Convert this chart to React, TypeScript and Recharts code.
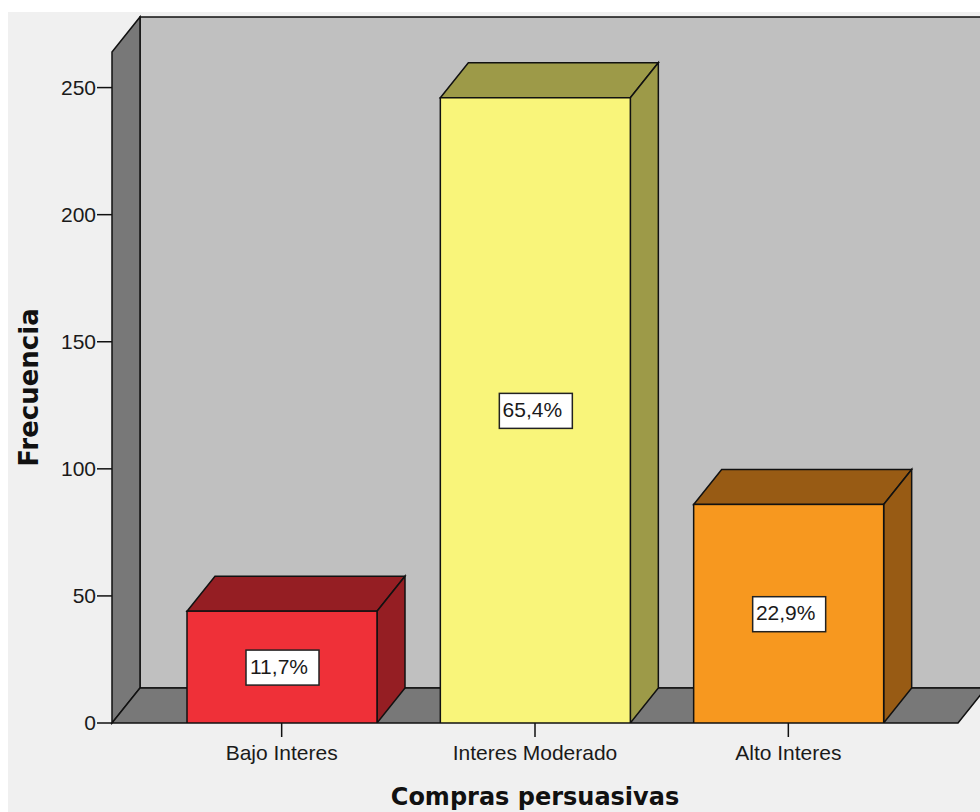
import React from 'react';
import { BarChart, Bar, XAxis, YAxis, LabelList, Label, usePlotArea } from 'recharts';

const categories = ['Bajo Interes', 'Interes Moderado', 'Alto Interes'];
const counts = [44, 246, 86];
const percents = ['11,7%', '65,4%', '22,9%'];
const yTicks = [0, 50, 100, 150, 200, 250];

const frontColors = ['#ef3038', '#f9f57a', '#f7981f'];
const darkColors = ['#951e23', '#9d9a48', '#985b14'];

const data = categories.map((name, i) => ({ name, count: counts[i], pct: percents[i] }));

// 3D depth of the box
const DX = 28;
const DY = 35;
const FONT = '"Liberation Sans", Arial, sans-serif';

function Walls() {
  const area = usePlotArea();
  if (!area) return null;
  const { x, y, width: w, height: h } = area;
  const b = y + h;
  return (
    <g>
      <rect x={x + DX} y={y - DY} width={w} height={h} fill="#c0c0c0" stroke="#111" strokeWidth={1.5} />
      <polygon
        points={`${x},${y} ${x + DX},${y - DY} ${x + DX},${b - DY} ${x},${b}`}
        fill="#787878"
        stroke="#111"
        strokeWidth={1.5}
      />
      <polygon
        points={`${x},${b} ${x + DX},${b - DY} ${x + w + DX},${b - DY} ${x + w},${b}`}
        fill="#787878"
        stroke="#111"
        strokeWidth={1.5}
      />
    </g>
  );
}

const Box3D = (props: any) => {
  const { x, y, width: w, height: h, index } = props;
  const front = frontColors[index];
  const dark = darkColors[index];
  return (
    <g>
      <polygon
        points={`${x},${y} ${x + DX},${y - DY} ${x + w + DX},${y - DY} ${x + w},${y}`}
        fill={dark}
        stroke="#111"
        strokeWidth={1.5}
      />
      <polygon
        points={`${x + w},${y} ${x + w + DX},${y - DY} ${x + w + DX},${y + h - DY} ${x + w},${y + h}`}
        fill={dark}
        stroke="#111"
        strokeWidth={1.5}
      />
      <rect x={x} y={y} width={w} height={h} fill={front} stroke="#111" strokeWidth={1.5} />
    </g>
  );
};

const PctLabel = (props: any) => {
  const { x, y, width: w, height: h, value } = props;
  const cx = x + w / 2;
  const cy = y + h / 2;
  return (
    <g>
      <rect x={cx - 36} y={cy - 17} width={73} height={35} fill="#fff" stroke="#222" strokeWidth={1.5} />
      <text
        x={cx - 3}
        y={cy + 1}
        textAnchor="middle"
        dominantBaseline="middle"
        fontFamily={FONT}
        fontSize={21}
        fill="#1a1a1a"
      >
        {value}
      </text>
    </g>
  );
};

export default function App() {
  return (
    <div style={{ position: 'absolute', left: 0, top: 0, width: 980, height: 812, background: '#fff', overflow: 'hidden' }}>
      <div style={{ position: 'absolute', left: 8, top: 12, right: 0, bottom: 0, background: '#f0f0f0' }} />
      <div style={{ position: 'absolute', left: 0, top: 0 }}>
        <BarChart width={980} height={812} data={data} margin={{ top: 52, right: 22, left: 0, bottom: 39 }}>
          <Walls />
          <XAxis
            dataKey="name"
            padding={{ left: 43, right: 43 }}
            axisLine={false}
            tickSize={14}
            tickMargin={8}
            tickLine={{ stroke: '#111', strokeWidth: 1.5 }}
            tick={{ fontFamily: FONT, fontSize: 21, fill: '#1a1a1a' }}
            height={50}
            interval={0}
          >
            <Label
              content={(p: any) => {
                const vb = p.viewBox || { x: 112, width: 846 };
                return (
                  <text
                    x={vb.x + vb.width / 2}
                    y={805}
                    textAnchor="middle"
                    fontFamily='"DejaVu Sans", sans-serif'
                    fontWeight="bold"
                    fontSize={24}
                    fill="#111"
                  >
                    Compras persuasivas
                  </text>
                );
              }}
            />
          </XAxis>
          <YAxis
            width={112}
            domain={[0, 264]}
            ticks={yTicks}
            axisLine={false}
            tickSize={15}
            tickMargin={1}
            tickLine={{ stroke: '#111', strokeWidth: 1.5 }}
            tick={{ fontFamily: FONT, fontSize: 21, fill: '#1a1a1a' }}
            allowDataOverflow
          >
            <Label
              content={(p: any) => {
                const vb = p.viewBox || { y: 52, height: 671 };
                const cy = vb.y + vb.height / 2;
                return (
                  <text
                    x={38}
                    y={cy}
                    transform={`rotate(-90, 38, ${cy})`}
                    textAnchor="middle"
                    fontFamily='"DejaVu Sans", sans-serif'
                    fontWeight="bold"
                    fontSize={26}
                    fill="#111"
                  >
                    Frecuencia
                  </text>
                );
              }}
            />
          </YAxis>
          <Bar dataKey="count" barSize={190} shape={Box3D} isAnimationActive={false}>
            <LabelList dataKey="pct" content={PctLabel} />
          </Bar>
        </BarChart>
      </div>
    </div>
  );
}
